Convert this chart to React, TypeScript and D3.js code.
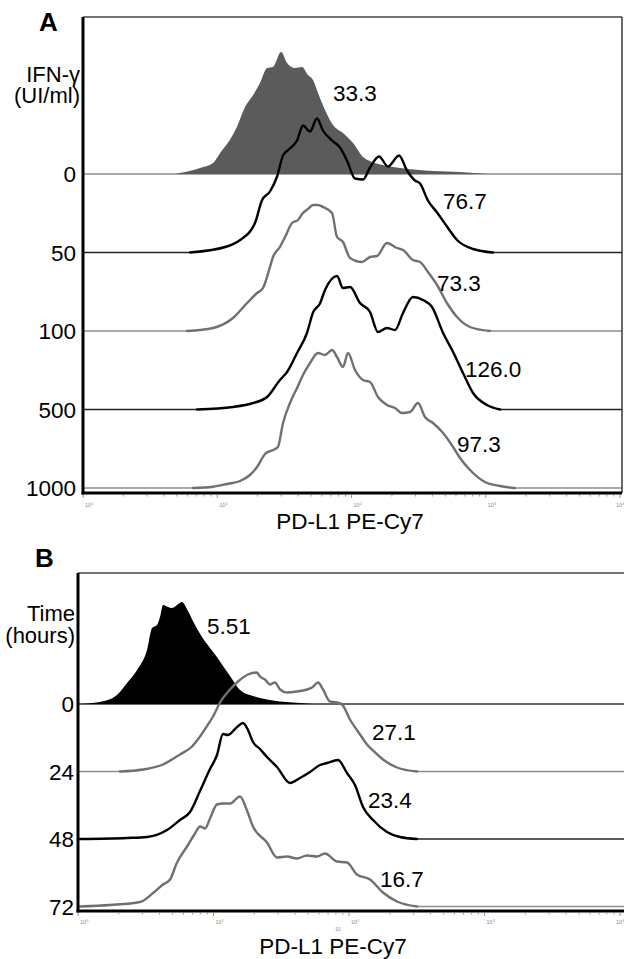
import React from 'react'
import * as d3 from 'd3'

// [PD-L1 PE-Cy7 intensity, events]
type Pt = [number, number]

const FONT = '"Liberation Sans", Arial, Helvetica, sans-serif'

// ---- Panel A: IFN-γ dose ----
const IFN_DOSES = ['0', '50', '100', '500', '1000']
const IFN_MFI = ['33.3', '76.7', '73.3', '126.0', '97.3']
const IFN_KIND = ['fillGrey', 'black', 'grey', 'black', 'grey']
// where each MFI number sits: [intensity, events above its row]
const IFN_MFI_AT: Pt[] = [[72.8, 73], [480, 43.5], [433, 40], [701, 32.5], [611, 36]]

const IFN_0: Pt[] = [
  [4.85, 0], [7.44, 6], [9.3, 11], [10.5, 21], [12.4, 34], [14.0, 47], [16.1, 67], [18.5, 79],
  [20.8, 91], [23.5, 106], [26.0, 107], [29.9, 122], [33.1, 111], [37.9, 106], [42.8, 107],
  [47.4, 99], [51.7, 94], [56.3, 81], [63.5, 64], [72.8, 49], [86.4, 41], [102.6, 31],
  [121.9, 17], [142.2, 12], [171.8, 9], [229.7, 6], [404.6, 3], [642.7, 2], [1040, 0],
]
const IFN_50: Pt[] = [
  [6.27, 0], [11.8, 6], [14.8, 12.5], [19.1, 29.5], [21.5, 52], [24.7, 61], [27.9, 76], [30.9, 97],
  [34.8, 104], [39.3, 112], [43.5, 127], [49.1, 121], [55.3, 134], [61.3, 122], [71.6, 112],
  [82.1, 105], [92.5, 92], [106.2, 74], [121.9, 73], [137.4, 85], [160.3, 96], [187.1, 86],
  [226, 97], [259, 82], [297, 72], [324, 69], [371, 52], [434, 40], [514, 26], [611, 12.5],
  [804, 3.5], [1132, 0],
]
const IFN_100: Pt[] = [
  [5.95, 0], [9.3, 3], [13.1, 13], [16.7, 28], [19.8, 38], [21.9, 43], [24.7, 64], [26.0, 74],
  [29.3, 84], [32.0, 94], [36.1, 108], [39.9, 111], [43.5, 118], [47.4, 122], [51.7, 126],
  [56.3, 126], [61.3, 124], [71.6, 118], [78.0, 94], [86.4, 89], [97.5, 73], [119.7, 69],
  [137.4, 74], [154.9, 75], [183.8, 88], [218, 83], [242, 81], [287, 71], [324, 69], [371, 59],
  [434, 46], [514, 28], [611, 14], [763, 4], [1076, 0],
]
const IFN_500: Pt[] = [
  [7.07, 0], [13.1, 2.5], [18.5, 6.5], [23.5, 12.5], [29.3, 29.5], [33.1, 37.5], [39.3, 56.5],
  [46.6, 76.5], [51.7, 97], [58.2, 106], [63.5, 119.5], [78.0, 133.5], [86.4, 121.5],
  [97.5, 122.5], [115.7, 106.5], [137.4, 97.5], [157.5, 77.5], [183.8, 81.5], [211, 79.5],
  [242, 96.5], [287, 112.5], [341, 109.5], [398, 102.5], [481, 76.5], [571, 57.5], [677, 36.5],
  [804, 16.5], [1021, 4.5], [1277, 0],
]
const IFN_1000: Pt[] = [
  [6.6, 0], [9.3, 1.3], [11.8, 4], [14.8, 7], [17.5, 13], [19.8, 21], [22.7, 34], [26.0, 38],
  [28.3, 41], [30.9, 65], [34.8, 85], [39.3, 100], [43.5, 113], [49.1, 125], [56.3, 135],
  [63.5, 133], [71.6, 138], [78.0, 131], [86.4, 121], [94.2, 135], [106.2, 118], [121.9, 108],
  [137.4, 106], [157.5, 91], [183.8, 83], [211, 80], [237.7, 75], [272.9, 76], [312.6, 85],
  [352.6, 71], [404.6, 65], [481, 55], [571, 41], [643, 30], [764, 18], [986, 6], [1277, 2],
  [1652, 0],
]
const IFN_SERIES = [IFN_0, IFN_50, IFN_100, IFN_500, IFN_1000]

// ---- Panel B: time course ----
const HOURS = ['0', '24', '48', '72']
const HOURS_MFI = ['5.51', '27.1', '23.4', '16.7']
const HOURS_KIND = ['fillBlack', 'grey', 'black', 'grey']
const HOURS_MFI_AT: Pt[] = [[8.95, 70], [147.8, 31.5], [138, 31], [169.3, 19.5]]

const H_0: Pt[] = [
  [1.03, 0], [1.45, 2], [1.94, 9], [2.3, 21], [2.73, 34], [3.23, 54], [3.52, 76], [3.83, 79],
  [4.03, 87], [4.24, 99], [4.62, 97], [4.94, 96], [5.38, 99], [5.85, 102], [6.48, 93],
  [7.3, 79], [8.23, 67], [9.42, 56], [10.6, 47], [11.75, 38], [13.24, 28], [15.7, 14],
  [19.6, 8], [27.5, 3.5], [43.5, 1], [54.2, 0],
]
const H_24: Pt[] = [
  [2.04, 0], [3.02, 2], [4.24, 7], [5.66, 17], [6.94, 25], [7.95, 35], [9.11, 47], [9.92, 55],
  [11.17, 69], [13.24, 82], [15.17, 90], [17.97, 97], [20.9, 99], [22.0, 95], [24.0, 92],
  [26.1, 87], [28.4, 89], [31.0, 82], [34.9, 79], [41.3, 80], [49.0, 82], [53.3, 84],
  [59.05, 89], [64.3, 82], [72.4, 70], [81.5, 69], [88.8, 67], [101.7, 52], [120.6, 37],
  [135.8, 27], [150.4, 21], [178.2, 12], [226.1, 4], [317.6, 0],
]
const H_48: Pt[] = [
  [1.03, 0], [2.3, 1], [3.23, 2], [4.54, 9], [5.66, 19], [6.71, 27], [7.95, 48], [9.42, 70],
  [10.61, 84], [11.75, 105], [12.79, 104], [14.91, 112], [16.51, 116], [17.97, 109],
  [19.56, 97], [22.03, 90], [24.82, 82], [29.42, 72], [36.7, 56], [43.5, 61], [51.55, 67],
  [61.1, 74], [68.8, 76], [82.96, 79], [96.6, 66], [110.7, 54], [126.9, 32], [150.4, 19],
  [190.7, 7], [237.9, 2], [317.6, 0],
]
const H_72: Pt[] = [
  [1.03, 0], [1.72, 1.5], [2.87, 4.5], [3.58, 13.5], [4.24, 22], [4.78, 27], [5.38, 44],
  [6.38, 60], [7.3, 73], [7.95, 80], [8.66, 78], [9.42, 88], [10.61, 102], [11.75, 103],
  [13.24, 103], [15.69, 110], [17.67, 96], [19.56, 80], [24.82, 64], [29.42, 49], [34.86, 50],
  [41.32, 48], [48.98, 51], [58.05, 50], [66.5, 53], [81.5, 45], [96.65, 44], [114.5, 32],
  [142.9, 27], [178.2, 14], [226.1, 5], [317.6, 0],
]
const HOURS_SERIES = [H_0, H_24, H_48, H_72]

const STYLE: Record<string, { fill?: string; stroke: string; base: string }> = {
  fillGrey: { fill: '#5b5b5b', stroke: 'none', base: '#8c8c8c' },
  fillBlack: { fill: '#000', stroke: 'none', base: '#333' },
  black: { stroke: '#000', base: '#222' },
  grey: { stroke: '#707070', base: '#8c8c8c' },
}

const count = d3.scaleLinear().domain([0, 150]).range([0, 150])

type PanelProps = {
  letter: string
  letterXY: [number, number]
  frame: { left: number; top: number; right: number; bottom: number; rightBorder: boolean; axisEnd: number }
  rowRange: [number, number]
  levels: string[]
  series: Pt[][]
  kinds: string[]
  mfi: string[]
  mfiAt: Pt[]
  titleLines: string[]
  titleRight: number
  titleY: number[]
  levelRight: number
  axisTitleY: number
  axisTitleX: number
  tickLabelY: number
}

function HistPanel(p: PanelProps) {
  const { frame } = p
  const x = d3.scaleLog().domain([1, 1e4]).range([frame.left, 620])
  const rowY = d3.scalePoint<string>().domain(p.levels).range(p.rowRange)

  const ticks = x.ticks()
  const isMajor = (t: number) => Math.abs(Math.log10(t) - Math.round(Math.log10(t))) < 1e-9

  return (
    <g>
      <text x={p.letterXY[0]} y={p.letterXY[1]} fontSize={26} fontWeight="bold">{p.letter}</text>

      {/* flat baselines: full width under filled ones, only outside the hump for outlines */}
      {p.series.map((pts, i) => {
        const y0 = rowY(p.levels[i]) as number
        const st = STYLE[p.kinds[i]]
        if (st.fill) {
          return <line key={'b' + i} x1={frame.left} x2={frame.right} y1={y0} y2={y0}
            stroke={st.base} strokeWidth={1.3} />
        }
        return (
          <g key={'b' + i} stroke={st.base} strokeWidth={1.3}>
            <line x1={frame.left} x2={x(pts[0][0])} y1={y0} y2={y0} />
            <line x1={x(pts[pts.length - 1][0])} x2={frame.right} y1={y0} y2={y0} />
          </g>
        )
      })}

      {/* histograms */}
      {p.series.map((pts, i) => {
        const y0 = rowY(p.levels[i]) as number
        const st = STYLE[p.kinds[i]]
        if (st.fill) {
          const area = d3.area<Pt>().x(d => x(d[0])).y0(y0).y1(d => y0 - count(d[1])).curve(d3.curveMonotoneX)
          return <path key={'h' + i} d={area(pts) || ''} fill={st.fill} />
        }
        const line = d3.line<Pt>().x(d => x(d[0])).y(d => y0 - count(d[1])).curve(d3.curveMonotoneX)
        return <path key={'h' + i} d={line(pts) || ''} fill="none" stroke={st.stroke}
          strokeWidth={2.4} strokeLinejoin="round" strokeLinecap="round" />
      })}

      {/* MFI numbers */}
      {p.mfi.map((m, i) => (
        <text key={'m' + i} x={x(p.mfiAt[i][0])} y={(rowY(p.levels[i]) as number) - count(p.mfiAt[i][1])}
          fontSize={22.5} fill="#000">{m}</text>
      ))}

      {/* frame */}
      <line x1={frame.left} x2={frame.axisEnd} y1={frame.top} y2={frame.top} stroke="#444" strokeWidth={1.6} />
      {frame.rightBorder && (
        <line x1={frame.right} x2={frame.right} y1={frame.top} y2={frame.bottom} stroke="#444" strokeWidth={1.6} />
      )}
      <line x1={frame.left} x2={frame.left} y1={frame.top} y2={frame.bottom + 1.5} stroke="#000" strokeWidth={3} />
      <line x1={frame.left - 1.5} x2={frame.axisEnd} y1={frame.bottom} y2={frame.bottom} stroke="#000" strokeWidth={3} />

      {/* log ticks */}
      {ticks.map((t, i) => (
        <line key={'t' + i} x1={x(t)} x2={x(t)} y1={frame.bottom + 1.5} y2={frame.bottom + (isMajor(t) ? 5 : 3.5)}
          stroke="#777" strokeWidth={0.8} />
      ))}
      {ticks.filter(isMajor).map(t => (
        <text key={'tl' + t} x={t >= 1e4 ? x(t) - 4 : x(t) + 2} y={p.tickLabelY} fontSize={5.5} fill="#888">
          10<tspan dy={-2} fontSize={3.8}>{Math.round(Math.log10(t))}</tspan>
        </text>
      ))}

      {/* row labels */}
      {p.levels.map(lv => (
        <text key={'l' + lv} x={p.levelRight} y={(rowY(lv) as number) + 8} fontSize={22.5} textAnchor="end">{lv}</text>
      ))}
      {p.titleLines.map((t, i) => (
        <text key={'tt' + i} x={p.titleRight} y={p.titleY[i]} fontSize={22} textAnchor="end">{t}</text>
      ))}

      <text x={p.axisTitleX} y={p.axisTitleY} fontSize={22.5} textAnchor="middle">PD-L1 PE-Cy7</text>
    </g>
  )
}

export default function App() {
  return (
    <svg width={624} height={959} fontFamily={FONT}
      style={{ position: 'absolute', left: 0, top: 0, background: '#fff', display: 'block' }}>
      <rect width={624} height={959} fill="#fff" />
      <HistPanel
        letter="A" letterXY={[39, 31]}
        frame={{ left: 83, top: 17, right: 622, bottom: 493, rightBorder: true, axisEnd: 622 }}
        rowRange={[174, 488]}
        levels={IFN_DOSES} series={IFN_SERIES} kinds={IFN_KIND}
        mfi={IFN_MFI} mfiAt={IFN_MFI_AT}
        titleLines={['IFN-γ', '(UI/ml)']} titleRight={80} titleY={[82, 103]}
        levelRight={76} axisTitleX={350} axisTitleY={529} tickLabelY={507}
      />
      <HistPanel
        letter="B" letterXY={[35, 567]}
        frame={{ left: 78, top: 573, right: 624, bottom: 911, rightBorder: false, axisEnd: 624 }}
        rowRange={[704, 906.5]}
        levels={HOURS} series={HOURS_SERIES} kinds={HOURS_KIND}
        mfi={HOURS_MFI} mfiAt={HOURS_MFI_AT}
        titleLines={['Time', '(hours)']} titleRight={75} titleY={[621, 643]}
        levelRight={74} axisTitleX={333} axisTitleY={954} tickLabelY={924}
      />
      {/* stray tick label printed below the B axis */}
      <text x={335} y={931} fontSize={5} fill="#888" fontFamily={FONT}>10</text>
    </svg>
  )
}
